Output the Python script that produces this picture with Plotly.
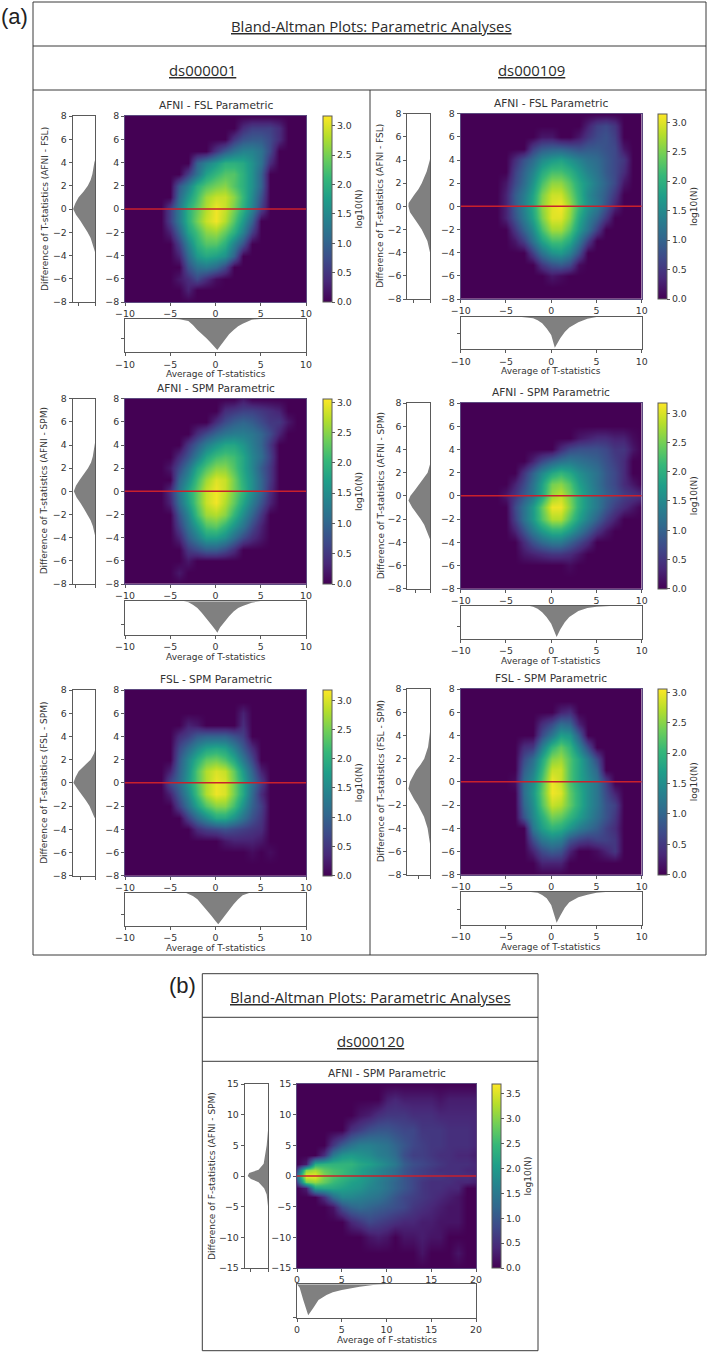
import plotly.graph_objects as go

W, H = 709, 1353
VIRIDIS = "Viridis"
GRAY = "#808080"
TXT = "#333333"
SPINE = "#5a5a5a"

# ---------- density rows: {y: (first x, log10(N) in tenths from that x on)} ----------
A1_Z = {
 7:(3,[4,6,6,6,4]), 6:(2,[5,8,9,9,7,4]), 5:(0,[5,9,12,14,14,12,7]),
 4:(-2,[10,14,17,20,20,19,16,12,4]), 3:(-3,[6,12,18,21,23,23,20,16,10]),
 2:(-4,[9,14,20,23,25,26,23,20,16,10]), 1:(-4,[11,17,22,27,29,29,26,21,15,8]),
 0:(-5,[6,13,20,24,28,31,29,25,20,14,6]), -1:(-5,[6,13,20,25,29,31,28,23,17,10]),
 -2:(-5,[3,10,18,22,26,27,24,20,14,6]), -3:(-4,[6,14,20,23,23,20,14,8]),
 -4:(-4,[3,11,17,19,18,16,10]), -5:(-3,[8,12,13,11,7]), -6:(-4,[2,4,7,4,1]), -7:(-3,[3]),
}
A2_Z = {
 8:(3,[2]), 7:(1,[4,5,6,6,5,4,3]), 6:(0,[4,7,9,10,9,7,5,5,2]),
 5:(-2,[4,7,10,12,13,13,12,10,7,3]), 4:(-3,[5,9,13,16,18,18,16,13,10,5]),
 3:(-4,[4,8,13,18,21,22,21,18,14,11,6]), 2:(-5,[2,7,12,18,22,25,25,22,18,14,9,5]),
 1:(-4,[10,15,21,26,29,28,24,19,15,10,5]), 0:(-5,[4,12,18,23,28,30,28,24,20,15,10,4]),
 -1:(-5,[3,11,17,23,28,30,27,23,18,13,8,3]), -2:(-4,[8,14,21,26,27,25,20,15,10,5]),
 -3:(-4,[6,12,17,22,23,20,16,12,7,3]), -4:(-4,[3,9,13,17,17,15,11,7,4,2]),
 -5:(-3,[5,7,9,9,7,4]), -6:(-3,[2]), -7:(-4,[2]),
}
A3_Z = {
 6:(3,[3]), 5:(-3,[3,2,0,0,0,0,4]), 4:(-4,[4,6,9,10,10,10,8,6]),
 3:(-4,[7,11,15,18,19,18,14,9,4]), 2:(-4,[9,15,20,24,25,23,19,13,7]),
 1:(-5,[3,10,16,23,28,30,29,24,17,10,3]), 0:(-5,[7,11,17,23,28,31,30,25,19,12,6]),
 -1:(-5,[3,9,15,22,28,31,30,25,19,11,4]), -2:(-4,[6,12,18,23,26,26,22,16,10,6]),
 -3:(-3,[6,11,15,19,19,16,12,8,5]), -4:(-2,[4,6,7,8,7,6,5,4]), -5:(1,[2,3,3,3,2]),
 -6:(4,[1,0,1]),
}
B1_Z = {
 7:(4,[3,6,7,5]), 6:(-1,[2,2,0,0,2,5,7,8,6]), 5:(-2,[6,9,10,10,9,8,9,9,8,7,2]),
 4:(-4,[4,8,11,15,17,18,16,14,12,11,9,7,5]), 3:(-4,[6,10,14,19,22,22,20,17,14,12,9,7,4]),
 2:(-5,[2,7,11,16,22,26,26,23,19,16,13,10,7,2]), 1:(-5,[3,9,13,18,25,29,29,25,20,15,12,9,5]),
 0:(-5,[3,9,14,19,26,30,31,27,21,16,13,8,3]), -1:(-5,[3,8,13,18,25,30,30,26,19,14,10,5]),
 -2:(-4,[5,10,15,22,27,27,23,17,12,6]), -3:(-4,[2,6,12,18,22,22,19,13,6]),
 -4:(-2,[6,12,16,17,14,8]), -5:(-1,[5,8,9,7,1]), -6:(0,[2,1]),
}
B2_Z = {
 5:(3,[2,3,4,4,3,3,1]), 4:(1,[4,7,8,8,8,7,5,5,2]), 3:(-2,[3,7,10,12,13,12,11,10,8,6,4]),
 2:(-3,[5,10,15,19,21,19,16,14,12,9,7,4]), 1:(-4,[3,7,12,18,25,26,23,18,15,12,9,7,4,2]),
 0:(-5,[2,5,9,13,19,27,29,25,20,16,13,10,8,6,5,4]),
 -1:(-4,[7,12,17,24,31,31,26,20,16,13,9,6,4,2]), -2:(-4,[6,12,17,23,28,28,23,18,14,10,6,3]),
 -3:(-4,[3,8,13,17,20,20,17,13,9,5,2]), -4:(-3,[4,8,11,13,13,10,7,4]),
 -5:(-3,[2,3,4,5,5,4,2]), -6:(2,[1]),
}
B3_Z = {
 6:(1,[3,4]), 5:(-1,[4,7,11,10,3]), 4:(-1,[7,12,17,16,9]), 3:(-3,[4,5,13,20,23,20,14,7]),
 2:(-3,[7,11,18,25,26,22,18,13,7]), 1:(-3,[9,13,20,28,28,22,18,14,10]),
 0:(-4,[1,11,15,22,30,28,22,18,15,12,6]), -1:(-3,[11,16,23,30,29,23,19,15,12,7,3]),
 -2:(-3,[10,15,22,28,27,23,19,15,12,8,6]), -3:(-3,[8,14,19,24,23,20,17,14,11,8,5]),
 -4:(-2,[12,17,20,19,16,13,11,9,6,4]), -5:(-2,[7,12,14,13,8,6,5,6,6,5]),
 -6:(-2,[3,7,9,8,3,0,0,1,3,5]), -7:(-1,[3,3,3]),
}
C_Z = {
 12.5:(10,[3,4,3,3,3,3,2,3,3,3,3]), 10:(7,[2,3,5,6,6,6,5,5,5,4,4,4,4,4]),
 7.5:(6,[5,7,9,10,10,9,8,8,6,6,6,5,5,5,4]), 5:(4,[6,11,14,16,16,15,14,12,10,8,7,6,6,5,5,5,4]),
 3.5:(3,[5,15,19,20,19,18,16,15,13,9,7,7,6,5,5,4,4,3]),
 2:(1,[3,23,24,24,24,24,22,21,19,17,15,11,9,8,7,6,5,5,5,4]),
 1:(0,[8,30,32,28,26,25,23,21,19,17,15,13,10,8,7,6,5,5,5,4,4]),
 0:(0,[15,36,36,30,27,25,23,21,19,17,15,13,10,8,7,6,6,5,5,5,4]),
 -1:(0,[8,29,31,28,25,23,21,20,18,16,14,12,10,8,6,5,5,5,4,4,3]),
 -2:(1,[3,21,22,22,21,20,19,17,16,14,12,10,8,6,5,5,4,4]),
 -3.5:(3,[5,13,17,17,16,15,14,12,10,8,7,6,5,4,3,2]),
 -5:(4,[2,9,12,13,12,11,10,9,8,6,5,4,3,2,2]),
 -7.5:(6,[4,6,8,7,6,5,4,4,3,3,2,2,2]), -10:(8,[2,3,2,0,2,2,3,2,2]), -12.5:(14,[2,0,0,0,2]),
}

T_X = list(range(-10, 11))
T_Y = list(range(-8, 9))
F_X = list(range(0, 21))
F_Y = [-15, -12.5, -10, -7.5, -5, -3.5, -2, -1, 0, 1, 2, 3.5, 5, 7.5, 10, 12.5, 15]

# ---------- marginal histograms (relative height) ----------
A1_LEFT_Y = [-3.7, -3, -2.5, -2, -1.5, -1, -.5, 0, .5, 1, 1.5, 2, 2.5, 3, 4, 4.2]
A1_LEFT_N = [0, .1, .2, .34, .5, .68, .87, 1, .9, .75, .52, .33, .2, .12, .03, 0]
A1_BOT_X = [-4.5, -4, -3, -2.5, -2, -1.5, -1, -.5, 0, .2, .5, 1, 1.5, 2, 2.5, 3, 4, 5]
A1_BOT_N = [0, .01, .06, .18, .33, .45, .58, .72, .88, .93, .82, .63, .46, .33, .22, .14, .02, 0]
A2_LEFT_Y = [-3.8, -3, -2.5, -2, -1.5, -1, -.5, 0, .5, 1, 1.5, 2, 2.5, 3, 4.2]
A2_LEFT_N = [0, .1, .2, .34, .5, .66, .84, .96, .86, .69, .5, .32, .18, .1, 0]
A2_BOT_X = [-3.5, -3, -2.5, -2, -1.5, -1, -.5, 0, .2, .5, 1, 1.5, 2, 2.5, 3, 4, 5]
A2_BOT_N = [0, .03, .1, .2, .35, .5, .68, .85, .93, .78, .6, .44, .3, .2, .14, .04, 0]
A3_LEFT_Y = [-3, -2.5, -2, -1.5, -1, -.5, 0, .5, 1, 1.5, 2, 2.5, 2.8]
A3_LEFT_N = [.02, .12, .25, .42, .59, .8, .98, .88, .74, .45, .2, .05, 0]
A3_BOT_X = [-3.3, -3, -2.5, -2, -1.5, -1, -.5, 0, .3, .5, 1, 1.5, 2, 2.5, 3, 3.8]
A3_BOT_N = [0, .03, .1, .2, .35, .5, .68, .85, .95, .88, .7, .52, .35, .2, .08, 0]
B1_LEFT_Y = [-4.2, -4, -3, -2.5, -2, -1.5, -1, -.5, 0, .3, 1, 1.5, 2, 2.5, 3, 4, 4.5]
B1_LEFT_N = [0, .01, .13, .24, .38, .55, .74, .9, .97, .96, .71, .52, .38, .26, .16, .02, 0]
B1_BOT_X = [-3.5, -3, -2, -1.5, -1, -.5, 0, .4, .7, 1, 1.5, 2, 3, 4, 5, 5.5]
B1_BOT_N = [0, .01, .05, .11, .2, .36, .56, .95, .8, .66, .47, .33, .17, .06, .01, 0]
B2_LEFT_Y = [-3.8, -3, -2.5, -2, -1.5, -1, -.4, 0, .5, 1, 1.5, 2, 2.8]
B2_LEFT_N = [0, .15, .27, .43, .62, .8, .97, .88, .68, .48, .28, .12, 0]
B2_BOT_X = [-2.5, -2, -1.5, -1, -.5, 0, .6, 1, 1.5, 2, 3, 4, 5, 6, 7]
B2_BOT_N = [0, .03, .09, .2, .35, .55, .95, .72, .5, .34, .16, .07, .03, .01, 0]
B3_LEFT_Y = [-5.5, -5, -4, -3, -2.5, -2, -1.5, -1, -.6, 0, .5, 1, 1.5, 2, 3, 4, 4.5]
B3_LEFT_N = [0, .03, .12, .28, .4, .55, .72, .88, .97, .9, .78, .63, .43, .27, .1, .02, 0]
B3_BOT_X = [-2.5, -1.5, -1, -.5, 0, .6, 1, 1.5, 2, 3, 4, 5, 6, 7]
B3_BOT_N = [0, .03, .1, .2, .4, .93, .72, .48, .32, .17, .09, .03, .01, 0]
C_LEFT_Y = [-5, -3, -2, -1, -.5, 0, .5, 1, 2, 5, 8]
C_LEFT_N = [.01, .07, .18, .42, .75, .89, .83, .42, .2, .07, .0]
C_BOT_X = [0, .3, .7, 1.25, 1.8, 2.4, 3.3, 4, 5, 7, 8.5, 10]
C_BOT_N = [0, .1, .47, .93, .72, .47, .32, .24, .17, .07, .02, 0]

T_TICKS_X = [-10, -5, 0, 5, 10]
T_TICKS_Y = [-8, -6, -4, -2, 0, 2, 4, 6, 8]
F_TICKS_X = [0, 5, 10, 15, 20]
F_TICKS_Y = [-15, -10, -5, 0, 5, 10, 15]
CB_TICKS = [0, .5, 1, 1.5, 2, 2.5, 3]
CB_TICKS_F = [0, .5, 1, 1.5, 2, 2.5, 3, 3.5]
MEAN_ZERO = [0, 0]


def grid(rows, xs, ys):
    z = [[0.0] * len(xs) for _ in ys]
    for y, (x0, vals) in rows.items():
        j = ys.index(y)
        i0 = xs.index(x0)
        for k, v in enumerate(vals):
            z[j][i0 + k] = v / 10
    return z


def X(px):
    return px / W


def Y(py):
    return 1 - py / H


TICK_FONT = dict(size=9.4, family="DejaVu Sans", color=TXT)
LABEL_FONT = dict(size=9.0, family="DejaVu Sans", color=TXT)
AX_COMMON = dict(showgrid=False, zeroline=False, showline=True, mirror=True, linecolor=SPINE,
                 linewidth=1, ticks="outside", ticklen=3, tickwidth=1, tickcolor=SPINE,
                 tickfont=TICK_FONT)

PANELS = [
 dict(t="AFNI - FSL Parametric", yl="Difference of T-statistics (AFNI - FSL)", xl="Average of T-statistics",
      z=A1_Z, ly=A1_LEFT_Y, ln=A1_LEFT_N, bx=A1_BOT_X, bn=A1_BOT_N, zmax=3.165, lt=.75, bt=.58,
      mx=(125, 306), my=(116, 302), lx=(72.7, 95), by=(319, 352.3), cx=322.7, ylx=45),
 dict(t="AFNI - SPM Parametric", yl="Difference of T-statistics (AFNI - SPM)", xl="Average of T-statistics",
      z=A2_Z, ly=A2_LEFT_Y, ln=A2_LEFT_N, bx=A2_BOT_X, bn=A2_BOT_N, zmax=3.055, lt=.87, bt=.7,
      mx=(125, 306), my=(398.7, 584), lx=(72.5, 95), by=(601.3, 635), cx=322.7, ylx=44),
 dict(t="FSL - SPM Parametric", yl="Difference of T-statistics (FSL - SPM)", xl="Average of T-statistics",
      z=A3_Z, ly=A3_LEFT_Y, ln=A3_LEFT_N, bx=A3_BOT_X, bn=A3_BOT_N, zmax=3.18, lt=.66, bt=.65,
      mx=(125, 306), my=(690, 875.7), lx=(72.5, 95), by=(892.7, 926), cx=322.7, ylx=44),
 dict(t="AFNI - FSL Parametric", yl="Difference of T-statistics (AFNI - FSL)", xl="Average of T-statistics",
      z=B1_Z, ly=B1_LEFT_Y, ln=B1_LEFT_N, bx=B1_BOT_X, bn=B1_BOT_N, zmax=3.14, lt=.74, bt=.51,
      mx=(460.7, 641.7), my=(113.7, 299), lx=(407.3, 430.3), by=(316.7, 349.3), cx=658.3, ylx=380.5),
 dict(t="AFNI - SPM Parametric", yl="Difference of T-statistics (AFNI - SPM)", xl="Average of T-statistics",
      z=B2_Z, ly=B2_LEFT_Y, ln=B2_LEFT_N, bx=B2_BOT_X, bn=B2_BOT_N, zmax=3.18, lt=.67, bt=.64,
      mx=(460.7, 641.7), my=(403, 588.7), lx=(407.3, 430.3), by=(605.7, 638.7), cx=658.3, ylx=380.5),
 dict(t="FSL - SPM Parametric", yl="Difference of T-statistics (FSL - SPM)", xl="Average of T-statistics",
      z=B3_Z, ly=B3_LEFT_Y, ln=B3_LEFT_N, bx=B3_BOT_X, bn=B3_BOT_N, zmax=3.06, lt=.52, bt=.53,
      mx=(460.7, 641.7), my=(689, 874.7), lx=(407.3, 430.3), by=(891.7, 925), cx=658.3, ylx=380.5),
 dict(t="AFNI - SPM Parametric", yl="Difference of F-statistics (AFNI - SPM)", xl="Average of F-statistics",
      z=C_Z, ly=C_LEFT_Y, ln=C_LEFT_N, bx=C_BOT_X, bn=C_BOT_N, zmax=3.7, lt=.75, bt=.98,
      mx=(297, 476), my=(1084, 1268), lx=(244.7, 268.3), by=(1284.3, 1317.7), cx=492.3, ylx=212, f=True),
]

fig = go.Figure()
layout = {}
annotations = []
n = 0
for p in PANELS:
    is_f = p.get("f", False)
    xs, ys = (F_X, F_Y) if is_f else (T_X, T_Y)
    xr = [xs[0], xs[-1]]
    yr = [ys[0], ys[-1]]
    xt = F_TICKS_X if is_f else T_TICKS_X
    yt = F_TICKS_Y if is_f else T_TICKS_Y
    cb_t = CB_TICKS_F if is_f else CB_TICKS
    a, b, c = n + 1, n + 2, n + 3
    n += 3
    (m0, m1), (t0, t1) = p["mx"], p["my"]
    layout[f"xaxis{a}"] = dict(AX_COMMON, domain=[X(m0), X(m1)], range=xr, tickvals=xt, anchor=f"y{a}", linecolor="#5d4a80")
    layout[f"yaxis{a}"] = dict(AX_COMMON, domain=[Y(t1), Y(t0)], range=yr, tickvals=yt, anchor=f"x{a}", linecolor="#5d4a80")
    fig.add_trace(go.Heatmap(
        x=xs, y=ys, z=grid(p["z"], xs, ys), colorscale=VIRIDIS, zmin=0, zmax=p["zmax"], zsmooth="best",
        xaxis=f"x{a}", yaxis=f"y{a}", hoverinfo="skip",
        colorbar=dict(x=X(p["cx"]), xanchor="left", xpad=0, ypad=0, y=Y(t1), yanchor="bottom",
                      len=(t1 - t0) / H, lenmode="fraction", thickness=9, outlinewidth=1, outlinecolor=SPINE,
                      tickvals=cb_t, tickformat=".1f", ticks="outside", ticklen=3, tickcolor=SPINE,
                      tickfont=TICK_FONT,
                      title=dict(text="log10(N)", side="right", font=LABEL_FONT)),
    ))
    fig.add_trace(go.Scatter(x=xr, y=MEAN_ZERO, mode="lines", line=dict(color="#c9202c", width=1.5),
                             xaxis=f"x{a}", yaxis=f"y{a}", hoverinfo="skip", showlegend=False))
    (l0, l1) = p["lx"]
    layout[f"xaxis{b}"] = dict(AX_COMMON, domain=[X(l0), X(l1)], range=[1.02, 0], tickvals=[0, p["lt"]],
                               showticklabels=False, anchor=f"y{b}")
    layout[f"yaxis{b}"] = dict(AX_COMMON, domain=[Y(t1), Y(t0)], range=yr, tickvals=yt, anchor=f"x{b}")
    fig.add_trace(go.Scatter(x=p["ln"], y=p["ly"], mode="lines", fill="tozerox", fillcolor=GRAY, line=dict(width=0, color=GRAY),
                             xaxis=f"x{b}", yaxis=f"y{b}", hoverinfo="skip", showlegend=False))
    (b0, b1) = p["by"]
    layout[f"xaxis{c}"] = dict(AX_COMMON, domain=[X(m0), X(m1)], range=xr, tickvals=xt, anchor=f"y{c}")
    layout[f"yaxis{c}"] = dict(AX_COMMON, domain=[Y(b1), Y(b0)], range=[1, 0], tickvals=[p["bt"]],
                               showticklabels=False, anchor=f"x{c}")
    fig.add_trace(go.Scatter(x=p["bx"], y=p["bn"], mode="lines", fill="tozeroy", fillcolor=GRAY, line=dict(width=0, color=GRAY),
                             xaxis=f"x{c}", yaxis=f"y{c}", hoverinfo="skip", showlegend=False))
    base = dict(xref="paper", yref="paper", showarrow=False, xanchor="center")
    annotations.append(dict(base, x=X((m0 + m1) / 2), y=Y(t0 - 3), yanchor="bottom", text=p["t"],
                            font=dict(size=10.6, family="DejaVu Sans", color=TXT)))
    annotations.append(dict(base, x=X((m0 + m1) / 2), y=Y(b1 + 22), yanchor="middle", text=p["xl"], font=LABEL_FONT))
    annotations.append(dict(base, x=X(p["ylx"]), y=Y((t0 + t1) / 2), textangle=-90, yanchor="middle",
                            text=p["yl"], font=LABEL_FONT))

HEAD = "Bland-Altman Plots: Parametric Analyses"
head_font = dict(size=14.9, family="Open Sans", color="#2b2b2b")
for tx, ty, txt in [(371, 26, HEAD), (202, 70, "ds000001"), (531, 70, "ds000109"), (370, 997, HEAD), (370, 1041, "ds000120")]:
    annotations.append(dict(xref="paper", yref="paper", showarrow=False, xanchor="center", x=X(tx), y=Y(ty), yanchor="middle",
                            text=f"<u>{txt}</u>", font=head_font))
for tx, ty, txt in [(14, 16, "(a)"), (182, 985, "(b)")]:
    annotations.append(dict(xref="paper", yref="paper", showarrow=False, xanchor="center", x=X(tx), y=Y(ty), yanchor="middle",
                            text=txt, font=dict(size=22, family="Liberation Sans", color="#222222")))

shapes = []
def rect(x0, y0, x1, y1):
    shapes.append(dict(type="rect", xref="paper", yref="paper", x0=X(x0), x1=X(x1), y0=Y(y0), y1=Y(y1),
                       line=dict(color="#3a3a3a", width=1)))
def line(x0, y0, x1, y1):
    shapes.append(dict(type="line", xref="paper", yref="paper", x0=X(x0), x1=X(x1), y0=Y(y0), y1=Y(y1),
                       line=dict(color="#3a3a3a", width=1)))
rect(33, 2, 706, 955)
line(33, 46, 706, 46)
line(33, 90, 706, 90)
line(370, 90, 370, 955)
rect(202.3, 973.7, 538, 1350.7)
line(202.3, 1017.3, 538, 1017.3)
line(202.3, 1061.3, 538, 1061.3)

fig.update_layout(width=W, height=H, margin=dict(l=0, r=0, t=0, b=0, autoexpand=False), paper_bgcolor="white", plot_bgcolor="white",
                  showlegend=False, annotations=annotations, shapes=shapes, **layout)
POST = """
document.documentElement.style.margin='0';document.body.style.margin='0';
document.body.style.overflow='hidden';
var gd=document.getElementById('{plot_id}');
gd.style.position='absolute';gd.style.left='0';gd.style.top='0';
"""
fig.write_html("out.html", config={"displayModeBar": False, "responsive": False}, post_script=POST)
